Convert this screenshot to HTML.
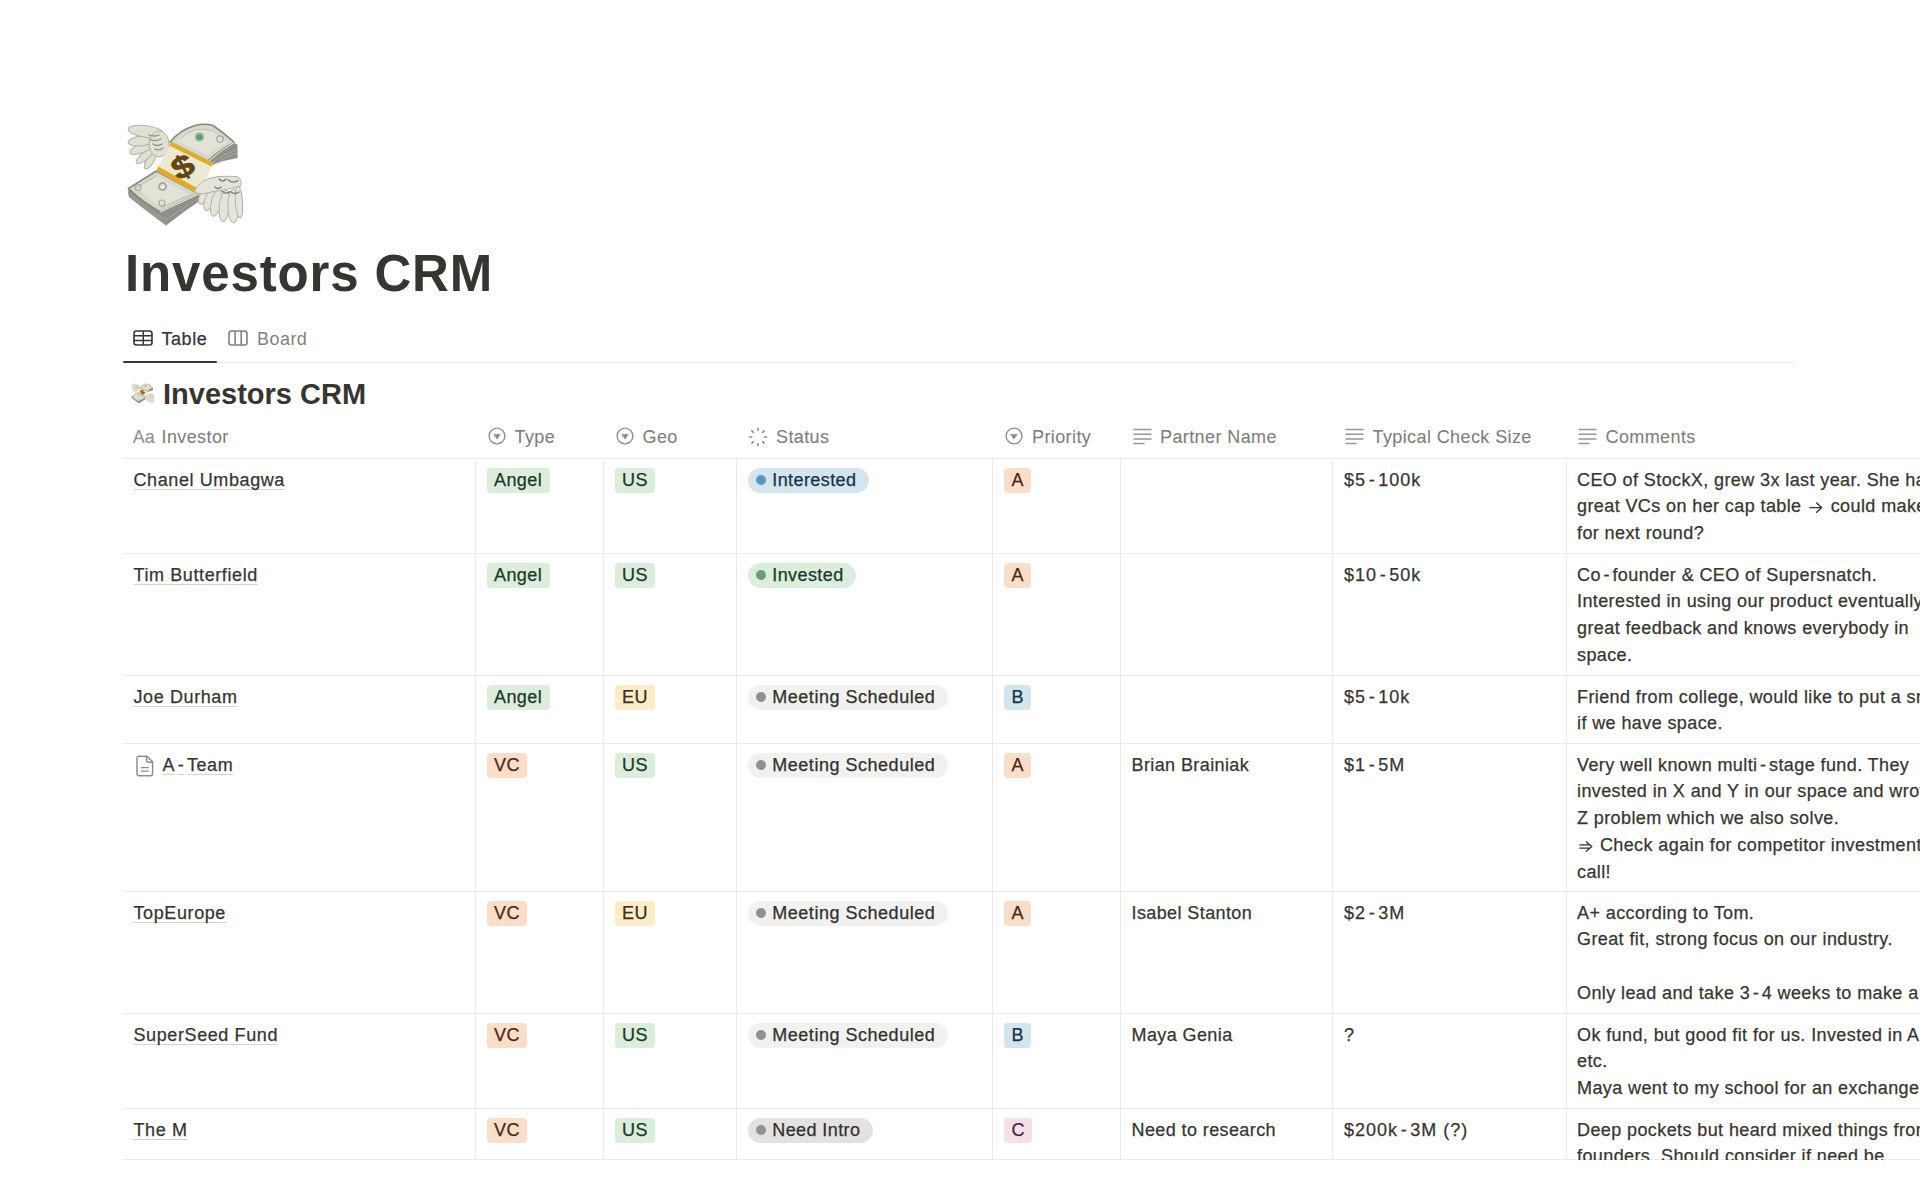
<!DOCTYPE html>
<html><head><meta charset="utf-8"><title>Investors CRM</title>
<style>
html,body{margin:0;padding:0;background:#fff;}
body{width:1920px;height:1199px;overflow:hidden;position:relative;font-family:"Liberation Sans",sans-serif;color:#37352f;}
.t,.nm,.tag,.pill{-webkit-text-stroke:0.25px currentColor;}
.hd{-webkit-text-stroke:0.15px currentColor;}
.a{position:absolute;}
.t{position:absolute;white-space:nowrap;font-size:18px;line-height:26.7px;letter-spacing:0.4px;color:#37352f;}
.hy{margin:0 2.6px;}
.hd{position:absolute;white-space:nowrap;font-size:18px;line-height:22px;letter-spacing:0.4px;color:rgba(55,53,47,0.65);}
.ic{position:absolute;}
.tag{position:absolute;height:25px;line-height:25px;padding:0 7.5px 0 7.5px;border-radius:3.75px;font-size:18px;letter-spacing:0.4px;white-space:nowrap;}
.pill{position:absolute;height:25px;line-height:25px;padding:0 12.5px 0 24.8px;border-radius:13px;font-size:18px;letter-spacing:0.4px;white-space:nowrap;}
.pill i{position:absolute;left:8.5px;top:7.5px;width:10px;height:10px;border-radius:50%;}
.hl{position:absolute;height:1px;background:#ebebea;}
.vl{position:absolute;width:1px;background:#ebebea;}
.nm{position:absolute;white-space:nowrap;font-size:18px;line-height:22px;letter-spacing:0.6px;color:#37352f;}
.nm span.u{text-decoration:underline;text-decoration-color:rgba(55,53,47,0.22);text-decoration-thickness:1px;text-underline-offset:3.2px;text-decoration-skip-ink:none;}
</style></head><body>
<svg class="a" style="left:125px;top:120px" width="120" height="110" viewBox="0 0 120 110"><!-- back wing (top-left) -->
<g fill="#e0e0d5" stroke="#b3b3a8" stroke-width="1">
<path d="M24 46 Q18 44 21 40 L30 33 Z"/>
<ellipse cx="25" cy="41" rx="9" ry="3.6" transform="rotate(-58 25 41)"/>
<ellipse cx="20" cy="36" rx="11" ry="3.8" transform="rotate(-40 20 36)"/>
<ellipse cx="17" cy="28" rx="13" ry="4.5" transform="rotate(-22 17 28)"/>
<ellipse cx="18" cy="20.5" rx="15" ry="5" transform="rotate(-8 18 20.5)"/>
<ellipse cx="21" cy="11.5" rx="18" ry="5.8" transform="rotate(8 21 11.5)"/>
<ellipse cx="34" cy="24" rx="10" ry="13"/>
</g>
<g fill="none" stroke="#8f8f84" stroke-width="1.3" stroke-linecap="round">
<path d="M24 15 Q30 17 34 15 M25 19.5 Q31 22 36 19 M28 24 Q32 27 37 24 M30 29 Q34 31 38 28"/>
</g>
<!-- right stack thickness -->
<path d="M83 40 Q95 30 109 23 L112.5 24.5 L112.5 38 Q100 40 90 44 L84 46 Z" fill="#8e9089"/>
<path d="M86 43 Q98 35 111.5 29 M87 45 Q99 38 111.5 33" stroke="#a9aba3" stroke-width="0.8" fill="none"/>
<!-- right stack face -->
<path d="M45 22 Q55 10 70 5.5 Q80 3 88 5.5 Q99 13 109.5 22.5 Q95 30 83 41 Z" fill="#d6d8ca" stroke="#85887f" stroke-width="1.6" stroke-linejoin="round"/>
<path d="M52 21 Q60 12 72 9 Q82 8 90 11 Q98 17 103 22 Q92 29 82 35 Z" fill="#e2e3d6"/>
<path d="M55 20 Q62 12 72 9.5 Q82 8.5 89 11.5 Q97 17 101 21.5" fill="none" stroke="#b9bcb0" stroke-width="0.9"/>
<circle cx="95" cy="19" r="3.2" fill="none" stroke="#9fa297" stroke-width="1.1"/>
<circle cx="74.5" cy="17" r="4.6" fill="#8dbb98"/>
<circle cx="74.5" cy="17" r="2.8" fill="#5f9c72"/>
<path d="M109.5 22.5 Q96 30 84 41" stroke="#f4f4ee" stroke-width="1" fill="none"/>
<!-- left stack thickness -->
<path d="M3.4 68.4 Q2.5 73 4 77 Q20 90 41 105.5 Q58 92 76 80 L74 74 L35.3 92 Z" fill="#8e9089"/>
<path d="M4 73 Q20 86 40 100 Q57 89 75 77.5 M5 76 Q21 89 40.5 103" stroke="#a7a9a1" stroke-width="0.8" fill="none"/>
<!-- left stack face -->
<path d="M3.4 68.4 L31.5 51 L74 74 L35.3 92 Q17 82 3.4 68.4 Z" fill="#d6d8ca" stroke="#85887f" stroke-width="1.6" stroke-linejoin="round"/>
<path d="M12 68 L32 56.5 L64 74 L36 86.5 Q22 79 12 68 Z" fill="#e2e3d6"/>
<path d="M10 68.5 L31.5 55.5 M36 88 L70 73" fill="none" stroke="#b9bcb0" stroke-width="0.9"/>
<circle cx="37.6" cy="66.5" r="4.4" fill="#a4a79e"/>
<circle cx="37.6" cy="66.5" r="2.6" fill="#e6e7dd"/>
<circle cx="13" cy="67.5" r="3" fill="none" stroke="#a9aba2" stroke-width="1.2"/>
<circle cx="37" cy="83" r="3" fill="none" stroke="#a9aba2" stroke-width="1.2"/>
<path d="M35.3 92 L74 74" stroke="#f4f4ee" stroke-width="1" fill="none"/>
<!-- band -->
<path d="M46 22 L88 43 L74 74.5 L31.5 50.5 Z" fill="#ece8d2"/>
<path d="M46 22 L88 43 L86.4 46.6 L44.4 25.6 Z" fill="#e2ab1c"/>
<path d="M33.2 46.4 L75.9 70.2 L74 74.5 L31.5 50.5 Z" fill="#e2ab1c"/>
<!-- dollar sign -->
<text x="0" y="0" font-family="Liberation Sans" font-weight="700" font-size="31" fill="#654510" stroke="#5a3d0c" stroke-width="0.6" text-anchor="middle" transform="translate(57.5 46.5) rotate(-28) scale(1.25 1) translate(0 11)">$</text>
<!-- front wing (bottom-right) -->
<g fill="#e4e4da" stroke="#b3b3a8" stroke-width="1">
<ellipse cx="79" cy="76" rx="4.2" ry="9" transform="rotate(28 79 76)"/>
<ellipse cx="84.5" cy="80" rx="4.6" ry="11" transform="rotate(20 84.5 80)"/>
<ellipse cx="91" cy="83" rx="5" ry="13.5" transform="rotate(12 91 83)"/>
<ellipse cx="99.5" cy="86" rx="5.2" ry="15.5" transform="rotate(6 99.5 86)"/>
<ellipse cx="108.5" cy="86" rx="5.6" ry="17" transform="rotate(0 108.5 86)"/>
<ellipse cx="114" cy="82" rx="3.6" ry="16" transform="rotate(-4 114 82)"/>
<path d="M70 70 Q74 62 84 58.5 Q92 56 100 56.3 L112 56.5 Q117 58 116 66 Q100 70 86 72 Q78 75 70 73 Z"/>
</g>
<g fill="none" stroke="#7f7f74" stroke-width="1.4" stroke-linecap="round">
<path d="M94 59 Q98 63 101 59 M103 60 Q108 64 113 60.5 M90 67 Q93 70 96 67 M97 71 Q101 75 105 71.5 M106 72 Q110 75 114 72"/>
</g>
</svg><div class="a" id="title" style="left:125px;top:243px;font-size:51px;font-weight:700;line-height:62px;letter-spacing:0.85px;white-space:nowrap;color:#37352f">Investors CRM</div><svg class="a" style="left:133px;top:330px" width="20" height="16" viewBox="0 0 20 16"><rect x="1" y="1" width="18" height="14" rx="2.4" fill="none" stroke="#37352f" stroke-width="1.6"/><path d="M1 5.8H19M1 10.4H19M10.3 1V15" stroke="#37352f" stroke-width="1.5" fill="none"/></svg><div class="a" style="left:161.5px;top:327.5px;font-size:18px;line-height:22px;letter-spacing:0.55px;color:#37352f;white-space:nowrap;-webkit-text-stroke:0.25px #37352f">Table</div><svg class="a" style="left:228px;top:330px" width="20" height="16" viewBox="0 0 20 16"><rect x="1" y="1" width="18" height="14" rx="2.4" fill="none" stroke="#82817d" stroke-width="1.6"/><path d="M7.1 1V15M13.2 1V15" stroke="#82817d" stroke-width="1.6" fill="none"/></svg><div class="a" style="left:257px;top:327.5px;font-size:18px;line-height:22px;letter-spacing:0.45px;color:rgba(55,53,47,0.65);white-space:nowrap">Board</div><div class="a" style="left:123px;top:361px;width:94px;height:2px;background:#37352f;border-radius:1px"></div><div class="a" style="left:217px;top:362px;width:1578px;height:1px;background:#e9e9e7"></div><svg class="a" style="left:131.3px;top:383px" width="23.5" height="21.5" viewBox="0 0 120 110"><!-- back wing (top-left) -->
<g fill="#e0e0d5" stroke="#b3b3a8" stroke-width="1">
<path d="M24 46 Q18 44 21 40 L30 33 Z"/>
<ellipse cx="25" cy="41" rx="9" ry="3.6" transform="rotate(-58 25 41)"/>
<ellipse cx="20" cy="36" rx="11" ry="3.8" transform="rotate(-40 20 36)"/>
<ellipse cx="17" cy="28" rx="13" ry="4.5" transform="rotate(-22 17 28)"/>
<ellipse cx="18" cy="20.5" rx="15" ry="5" transform="rotate(-8 18 20.5)"/>
<ellipse cx="21" cy="11.5" rx="18" ry="5.8" transform="rotate(8 21 11.5)"/>
<ellipse cx="34" cy="24" rx="10" ry="13"/>
</g>
<g fill="none" stroke="#8f8f84" stroke-width="1.3" stroke-linecap="round">
<path d="M24 15 Q30 17 34 15 M25 19.5 Q31 22 36 19 M28 24 Q32 27 37 24 M30 29 Q34 31 38 28"/>
</g>
<!-- right stack thickness -->
<path d="M83 40 Q95 30 109 23 L112.5 24.5 L112.5 38 Q100 40 90 44 L84 46 Z" fill="#8e9089"/>
<path d="M86 43 Q98 35 111.5 29 M87 45 Q99 38 111.5 33" stroke="#a9aba3" stroke-width="0.8" fill="none"/>
<!-- right stack face -->
<path d="M45 22 Q55 10 70 5.5 Q80 3 88 5.5 Q99 13 109.5 22.5 Q95 30 83 41 Z" fill="#d6d8ca" stroke="#85887f" stroke-width="1.6" stroke-linejoin="round"/>
<path d="M52 21 Q60 12 72 9 Q82 8 90 11 Q98 17 103 22 Q92 29 82 35 Z" fill="#e2e3d6"/>
<path d="M55 20 Q62 12 72 9.5 Q82 8.5 89 11.5 Q97 17 101 21.5" fill="none" stroke="#b9bcb0" stroke-width="0.9"/>
<circle cx="95" cy="19" r="3.2" fill="none" stroke="#9fa297" stroke-width="1.1"/>
<circle cx="74.5" cy="17" r="4.6" fill="#8dbb98"/>
<circle cx="74.5" cy="17" r="2.8" fill="#5f9c72"/>
<path d="M109.5 22.5 Q96 30 84 41" stroke="#f4f4ee" stroke-width="1" fill="none"/>
<!-- left stack thickness -->
<path d="M3.4 68.4 Q2.5 73 4 77 Q20 90 41 105.5 Q58 92 76 80 L74 74 L35.3 92 Z" fill="#8e9089"/>
<path d="M4 73 Q20 86 40 100 Q57 89 75 77.5 M5 76 Q21 89 40.5 103" stroke="#a7a9a1" stroke-width="0.8" fill="none"/>
<!-- left stack face -->
<path d="M3.4 68.4 L31.5 51 L74 74 L35.3 92 Q17 82 3.4 68.4 Z" fill="#d6d8ca" stroke="#85887f" stroke-width="1.6" stroke-linejoin="round"/>
<path d="M12 68 L32 56.5 L64 74 L36 86.5 Q22 79 12 68 Z" fill="#e2e3d6"/>
<path d="M10 68.5 L31.5 55.5 M36 88 L70 73" fill="none" stroke="#b9bcb0" stroke-width="0.9"/>
<circle cx="37.6" cy="66.5" r="4.4" fill="#a4a79e"/>
<circle cx="37.6" cy="66.5" r="2.6" fill="#e6e7dd"/>
<circle cx="13" cy="67.5" r="3" fill="none" stroke="#a9aba2" stroke-width="1.2"/>
<circle cx="37" cy="83" r="3" fill="none" stroke="#a9aba2" stroke-width="1.2"/>
<path d="M35.3 92 L74 74" stroke="#f4f4ee" stroke-width="1" fill="none"/>
<!-- band -->
<path d="M46 22 L88 43 L74 74.5 L31.5 50.5 Z" fill="#ece8d2"/>
<path d="M46 22 L88 43 L86.4 46.6 L44.4 25.6 Z" fill="#e2ab1c"/>
<path d="M33.2 46.4 L75.9 70.2 L74 74.5 L31.5 50.5 Z" fill="#e2ab1c"/>
<!-- dollar sign -->
<text x="0" y="0" font-family="Liberation Sans" font-weight="700" font-size="31" fill="#654510" stroke="#5a3d0c" stroke-width="0.6" text-anchor="middle" transform="translate(57.5 46.5) rotate(-28) scale(1.25 1) translate(0 11)">$</text>
<!-- front wing (bottom-right) -->
<g fill="#e4e4da" stroke="#b3b3a8" stroke-width="1">
<ellipse cx="79" cy="76" rx="4.2" ry="9" transform="rotate(28 79 76)"/>
<ellipse cx="84.5" cy="80" rx="4.6" ry="11" transform="rotate(20 84.5 80)"/>
<ellipse cx="91" cy="83" rx="5" ry="13.5" transform="rotate(12 91 83)"/>
<ellipse cx="99.5" cy="86" rx="5.2" ry="15.5" transform="rotate(6 99.5 86)"/>
<ellipse cx="108.5" cy="86" rx="5.6" ry="17" transform="rotate(0 108.5 86)"/>
<ellipse cx="114" cy="82" rx="3.6" ry="16" transform="rotate(-4 114 82)"/>
<path d="M70 70 Q74 62 84 58.5 Q92 56 100 56.3 L112 56.5 Q117 58 116 66 Q100 70 86 72 Q78 75 70 73 Z"/>
</g>
<g fill="none" stroke="#7f7f74" stroke-width="1.4" stroke-linecap="round">
<path d="M94 59 Q98 63 101 59 M103 60 Q108 64 113 60.5 M90 67 Q93 70 96 67 M97 71 Q101 75 105 71.5 M106 72 Q110 75 114 72"/>
</g>
</svg><div class="a" style="left:163px;top:376.5px;font-size:29px;font-weight:700;line-height:34px;letter-spacing:0px;white-space:nowrap;color:#37352f">Investors CRM</div><div class="hd" style="left:132.8px;top:425.7px;letter-spacing:0px;color:rgba(55,53,47,0.55)">Aa</div><div class="hd" style="left:161.5px;top:425.7px">Investor</div><svg class="ic" style="left:487.5px;top:427.3px" width="18" height="18" viewBox="0 0 18 18"><circle cx="9" cy="9" r="7.9" fill="none" stroke="#8e8d8a" stroke-width="1.35"/><path d="M5.5 7.3 L12.5 7.3 L9 12.3 Z" fill="#8e8d8a" stroke="#8e8d8a" stroke-width="0.4" stroke-linejoin="round"/></svg><div class="hd" style="left:514.5px;top:425.7px">Type</div><svg class="ic" style="left:615.5px;top:427.3px" width="18" height="18" viewBox="0 0 18 18"><circle cx="9" cy="9" r="7.9" fill="none" stroke="#8e8d8a" stroke-width="1.35"/><path d="M5.5 7.3 L12.5 7.3 L9 12.3 Z" fill="#8e8d8a" stroke="#8e8d8a" stroke-width="0.4" stroke-linejoin="round"/></svg><div class="hd" style="left:642.5px;top:425.7px">Geo</div><svg class="ic" style="left:746.8px;top:425.5px" width="22" height="22" viewBox="0 0 22 22"><path d="M17.50 11.00L19.70 11.00M15.60 15.60L17.15 17.15M11.00 17.50L11.00 19.70M6.40 15.60L4.85 17.15M4.50 11.00L2.30 11.00M6.40 6.40L4.85 4.85M11.00 4.50L11.00 2.30M15.60 6.40L17.15 4.85" stroke="#8e8d8a" stroke-width="1.55" stroke-linecap="round" fill="none"/></svg><div class="hd" style="left:776px;top:425.7px">Status</div><svg class="ic" style="left:1004.5px;top:427.3px" width="18" height="18" viewBox="0 0 18 18"><circle cx="9" cy="9" r="7.9" fill="none" stroke="#8e8d8a" stroke-width="1.35"/><path d="M5.5 7.3 L12.5 7.3 L9 12.3 Z" fill="#8e8d8a" stroke="#8e8d8a" stroke-width="0.4" stroke-linejoin="round"/></svg><div class="hd" style="left:1032px;top:425.7px">Priority</div><svg class="ic" style="left:1132.5px;top:428px" width="19" height="17" viewBox="0 0 19 17"><g stroke="#979693" stroke-width="1.45" stroke-linecap="round"><path d="M1 1.5H18M1 6.2H18M1 10.9H18M1 15.5H11"/></g></svg><div class="hd" style="left:1160px;top:425.7px">Partner Name</div><svg class="ic" style="left:1344.5px;top:428px" width="19" height="17" viewBox="0 0 19 17"><g stroke="#979693" stroke-width="1.45" stroke-linecap="round"><path d="M1 1.5H18M1 6.2H18M1 10.9H18M1 15.5H11"/></g></svg><div class="hd" style="left:1372.5px;top:425.7px">Typical Check Size</div><svg class="ic" style="left:1577.5px;top:428px" width="19" height="17" viewBox="0 0 19 17"><g stroke="#979693" stroke-width="1.45" stroke-linecap="round"><path d="M1 1.5H18M1 6.2H18M1 10.9H18M1 15.5H11"/></g></svg><div class="hd" style="left:1605.5px;top:425.7px">Comments</div><div class="hl" style="left:123px;top:458px;width:1797px"></div><div class="hl" style="left:123px;top:553px;width:1797px"></div><div class="hl" style="left:123px;top:675px;width:1797px"></div><div class="hl" style="left:123px;top:743px;width:1797px"></div><div class="hl" style="left:123px;top:891px;width:1797px"></div><div class="hl" style="left:123px;top:1013px;width:1797px"></div><div class="hl" style="left:123px;top:1108px;width:1797px"></div><div class="hl" style="left:123px;top:1159px;width:1797px"></div><div class="vl" style="left:475px;top:458px;height:702px"></div><div class="vl" style="left:603px;top:458px;height:702px"></div><div class="vl" style="left:736px;top:458px;height:702px"></div><div class="vl" style="left:992px;top:458px;height:702px"></div><div class="vl" style="left:1120px;top:458px;height:702px"></div><div class="vl" style="left:1332px;top:458px;height:702px"></div><div class="vl" style="left:1566px;top:458px;height:702px"></div><div class="nm" style="left:133.5px;top:468.5px"><span class="u">Chanel Umbagwa</span></div><div class="tag" style="left:486.5px;top:467.5px;background:#dbeddb;color:#1c3829">Angel</div><div class="tag" style="left:614.5px;top:467.5px;background:#dbeddb;color:#1c3829">US</div><div class="pill" style="left:747.5px;top:467.5px;background:#d3e5ef;color:#183347;"><i style="background:#5b97bd"></i>Interested</div><div class="tag" style="left:1004px;top:467.5px;background:#fadec9;color:#49290e">A</div><div class="t" style="left:1344px;top:466.75px;letter-spacing:1.0px">$5<span class="hy">-</span>100k</div><div class="t" style="left:1577px;top:466.75px;">CEO of StockX, grew 3x last year. She has<br>great VCs on her cap table <svg class="arr" width="14" height="11" viewBox="0 0 14 11" style="margin:0 2.2px 0 2.2px;vertical-align:-0.5px"><path d="M0.8 5.6H12.6M7.6 0.9L12.7 5.6L7.6 10.3" fill="none" stroke="#37352f" stroke-width="1.35" stroke-linecap="round" stroke-linejoin="round"/></svg> could make<br>for next round?</div><div class="nm" style="left:133.5px;top:563.5px"><span class="u">Tim Butterfield</span></div><div class="tag" style="left:486.5px;top:562.5px;background:#dbeddb;color:#1c3829">Angel</div><div class="tag" style="left:614.5px;top:562.5px;background:#dbeddb;color:#1c3829">US</div><div class="pill" style="left:747.5px;top:562.5px;background:#dbeddb;color:#1c3829;"><i style="background:#6c9b7d"></i>Invested</div><div class="tag" style="left:1004px;top:562.5px;background:#fadec9;color:#49290e">A</div><div class="t" style="left:1344px;top:561.75px;letter-spacing:1.0px">$10<span class="hy">-</span>50k</div><div class="t" style="left:1577px;top:561.75px;">Co<span class="hy">-</span>founder &amp; CEO of Supersnatch.<br>Interested in using our product eventually<br>great feedback and knows everybody in<br>space.</div><div class="nm" style="left:133.5px;top:685.5px"><span class="u">Joe Durham</span></div><div class="tag" style="left:486.5px;top:684.5px;background:#dbeddb;color:#1c3829">Angel</div><div class="tag" style="left:614.5px;top:684.5px;background:#fdecc8;color:#402c1b">EU</div><div class="pill" style="left:747.5px;top:684.5px;background:#f1f1ef;color:#32302c;letter-spacing:0.52px;"><i style="background:#91918e"></i>Meeting Scheduled</div><div class="tag" style="left:1004px;top:684.5px;background:#d3e5ef;color:#183347">B</div><div class="t" style="left:1344px;top:683.75px;letter-spacing:1.0px">$5<span class="hy">-</span>10k</div><div class="t" style="left:1577px;top:683.75px;">Friend from college, would like to put a small<br>if we have space.</div><svg class="ic" style="left:135.5px;top:754.5px" width="18" height="22" viewBox="0 0 18 22"><path d="M3.2 1.2H11L16.6 6.8V18.6Q16.6 20.8 14.4 20.8H3.2Q1 20.8 1 18.6V3.4Q1 1.2 3.2 1.2Z" fill="none" stroke="#8e8d8a" stroke-width="1.5" stroke-linejoin="round"/><path d="M10.6 1.4V5.6Q10.6 7.2 12.2 7.2H16.4" fill="none" stroke="#8e8d8a" stroke-width="1.5"/><path d="M4.8 12.6H12.8M4.8 16.2H12.8" stroke="#8e8d8a" stroke-width="1.3"/></svg><div class="nm" style="left:162.5px;top:753.5px"><span class="u">A<span class="hy">-</span>Team</span></div><div class="tag" style="left:486.5px;top:752.5px;background:#fadec9;color:#49290e">VC</div><div class="tag" style="left:614.5px;top:752.5px;background:#dbeddb;color:#1c3829">US</div><div class="pill" style="left:747.5px;top:752.5px;background:#f1f1ef;color:#32302c;letter-spacing:0.52px;"><i style="background:#91918e"></i>Meeting Scheduled</div><div class="tag" style="left:1004px;top:752.5px;background:#fadec9;color:#49290e">A</div><div class="t" style="left:1131.5px;top:751.75px;">Brian Brainiak</div><div class="t" style="left:1344px;top:751.75px;letter-spacing:1.0px">$1<span class="hy">-</span>5M</div><div class="t" style="left:1577px;top:751.75px;">Very well known multi<span class="hy">-</span>stage fund. They<br>invested in X and Y in our space and wrote<br>Z problem which we also solve.<br><svg class="arr" width="14" height="11" viewBox="0 0 14 11" style="margin:0 1.6px 0 1.9px;vertical-align:-1.5px"><path d="M0.8 3.9H11.2M0.8 7.1H11.2M7.3 0.8L12.8 5.5L7.3 10.2" fill="none" stroke="#37352f" stroke-width="1.3" stroke-linecap="round" stroke-linejoin="round"/></svg> Check again for competitor investments<br>call!</div><div class="nm" style="left:133.5px;top:901.5px"><span class="u">TopEurope</span></div><div class="tag" style="left:486.5px;top:900.5px;background:#fadec9;color:#49290e">VC</div><div class="tag" style="left:614.5px;top:900.5px;background:#fdecc8;color:#402c1b">EU</div><div class="pill" style="left:747.5px;top:900.5px;background:#f1f1ef;color:#32302c;letter-spacing:0.52px;"><i style="background:#91918e"></i>Meeting Scheduled</div><div class="tag" style="left:1004px;top:900.5px;background:#fadec9;color:#49290e">A</div><div class="t" style="left:1131.5px;top:899.75px;">Isabel Stanton</div><div class="t" style="left:1344px;top:899.75px;letter-spacing:1.0px">$2<span class="hy">-</span>3M</div><div class="t" style="left:1577px;top:899.75px;">A+ according to Tom.<br>Great fit, strong focus on our industry.<br>&nbsp;<br>Only lead and take 3<span class="hy">-</span>4 weeks to make a</div><div class="nm" style="left:133.5px;top:1023.5px"><span class="u">SuperSeed Fund</span></div><div class="tag" style="left:486.5px;top:1022.5px;background:#fadec9;color:#49290e">VC</div><div class="tag" style="left:614.5px;top:1022.5px;background:#dbeddb;color:#1c3829">US</div><div class="pill" style="left:747.5px;top:1022.5px;background:#f1f1ef;color:#32302c;letter-spacing:0.52px;"><i style="background:#91918e"></i>Meeting Scheduled</div><div class="tag" style="left:1004px;top:1022.5px;background:#d3e5ef;color:#183347">B</div><div class="t" style="left:1131.5px;top:1021.75px;">Maya Genia</div><div class="t" style="left:1344px;top:1021.75px;letter-spacing:1.0px">?</div><div class="t" style="left:1577px;top:1021.75px;">Ok fund, but good fit for us. Invested in A<br>etc.<br>Maya went to my school for an exchange</div><div class="nm" style="left:133.5px;top:1118.5px"><span class="u">The M</span></div><div class="tag" style="left:486.5px;top:1117.5px;background:#fadec9;color:#49290e">VC</div><div class="tag" style="left:614.5px;top:1117.5px;background:#dbeddb;color:#1c3829">US</div><div class="pill" style="left:747.5px;top:1117.5px;background:#e3e2e0;color:#32302c;"><i style="background:#91918e"></i>Need Intro</div><div class="tag" style="left:1004px;top:1117.5px;background:#f5e0e9;color:#4c2337">C</div><div class="t" style="left:1131.5px;top:1116.75px;">Need to research</div><div class="t" style="left:1344px;top:1116.75px;letter-spacing:1.0px">$200k<span class="hy">-</span>3M (?)</div><div class="t" style="left:1577px;top:1116.75px;">Deep pockets but heard mixed things from<br>founders. Should consider if need be</div><div class="a" style="left:0;top:1160px;width:1920px;height:39px;background:#fff"></div></body></html>
